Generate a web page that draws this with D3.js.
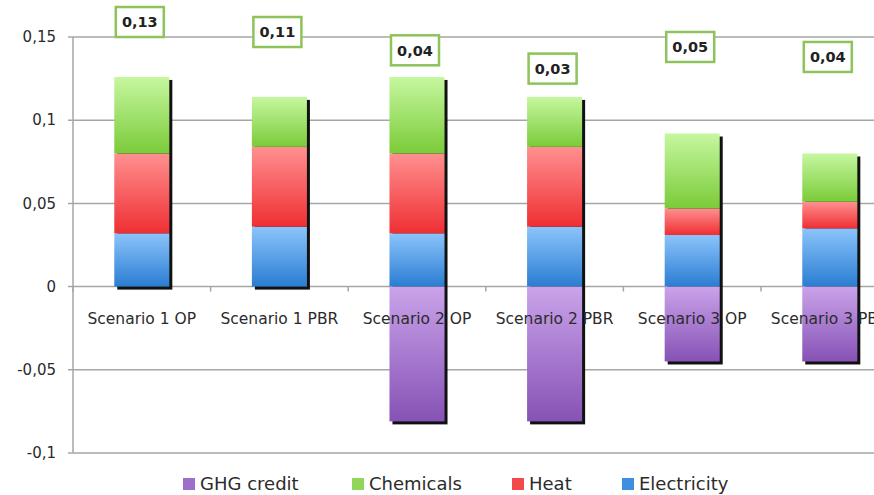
<!DOCTYPE html>
<html>
<head>
<meta charset="utf-8">
<script src="https://cdn.jsdelivr.net/npm/d3@7"></script>
<style>
  body { margin: 0; background: #fff; }
  svg { display: block; font-family: "DejaVu Sans", Verdana, sans-serif; }
</style>
</head>
<body>
<svg></svg>
<script>
let width = 874;
let height = 495;

// data
var scenarios = ["Scenario 1 OP", "Scenario 1 PBR", "Scenario 2 OP", "Scenario 2 PBR", "Scenario 3 OP", "Scenario 3 PBR"];
var electricity = [0.032, 0.036, 0.032, 0.036, 0.031, 0.035];
var heat = [0.048, 0.048, 0.048, 0.048, 0.016, 0.016];
var chemicals = [0.046, 0.030, 0.046, 0.030, 0.045, 0.029];
var ghgCredit = [0, 0, -0.081, -0.081, -0.045, -0.045];
var netLabels = ["0,13", "0,11", "0,04", "0,03", "0,05", "0,04"];
var yTicks = [0.15, 0.1, 0.05, 0, -0.05, -0.1];

// where each net value box sits, in axis units
var labelLevel = [0.159, 0.153, 0.142, 0.131, 0.144, 0.138];

var keys = ["electricity", "heat", "chemicals", "ghg"];
var legendKeys = ["ghg", "chemicals", "heat", "electricity"];
var names = { ghg: "GHG credit", chemicals: "Chemicals", heat: "Heat", electricity: "Electricity" };
var grad = {
  electricity: ["#8cc4fb", "#2a7dd2"],
  heat: ["#ff9090", "#ef2f33"],
  chemicals: ["#c6f7a0", "#7bcb39"],
  ghg: ["#caa3ea", "#8652b5"]
};
var swatch = { ghg: "#9d6fcb", chemicals: "#8fd65a", heat: "#f2494c", electricity: "#3f8fe0" };

var table = scenarios.map(function(s, i) {
  return { name: s, electricity: electricity[i], heat: heat[i], chemicals: chemicals[i], ghg: ghgCredit[i] };
});

var svg = d3.select("svg").attr("width", width).attr("height", height);

var x = d3.scaleBand()
  .domain(scenarios)
  .range([73, 73 + 6 * 137.6])
  .paddingInner(0.6)
  .paddingOuter(0.3);

var y = d3.scaleLinear()
  .domain([-0.1, 0.15])
  .range([453, 37]);

// gradients for each series
var defs = svg.append("defs");
keys.forEach(function(k) {
  var g = defs.append("linearGradient")
    .attr("id", "g-" + k)
    .attr("x1", 0).attr("y1", 0).attr("x2", 0).attr("y2", 1);
  g.append("stop").attr("offset", "0%").attr("stop-color", grad[k][0]);
  g.append("stop").attr("offset", "100%").attr("stop-color", grad[k][1]);
});

// gridlines
svg.append("g")
  .selectAll("line")
  .data(yTicks)
  .enter().append("line")
  .attr("x1", 68)
  .attr("x2", width)
  .attr("y1", function(d) { return y(d); })
  .attr("y2", function(d) { return y(d); })
  .attr("stroke", "#a6a6a6")
  .attr("stroke-width", 1.5);

// y axis line
svg.append("line")
  .attr("x1", 73).attr("x2", 73)
  .attr("y1", y(0.15)).attr("y2", y(-0.1))
  .attr("stroke", "#a6a6a6")
  .attr("stroke-width", 1.5);

// category ticks under the zero line
svg.append("g")
  .selectAll("line")
  .data(d3.range(scenarios.length + 1))
  .enter().append("line")
  .attr("x1", function(i) { return 73 + i * x.step(); })
  .attr("x2", function(i) { return 73 + i * x.step(); })
  .attr("y1", y(0))
  .attr("y2", y(0) + 5)
  .attr("stroke", "#a6a6a6")
  .attr("stroke-width", 1.5);

// y tick labels
svg.append("g")
  .selectAll("text")
  .data(yTicks)
  .enter().append("text")
  .attr("x", 56)
  .attr("y", function(d) { return y(d); })
  .attr("dy", "0.35em")
  .attr("text-anchor", "end")
  .attr("font-size", 15)
  .attr("fill", "#2b2b2b")
  .text(function(d) { return d === 0 ? "0" : String(d).replace(".", ","); });

var series = d3.stack()
  .keys(keys)
  .offset(d3.stackOffsetDiverging)(table);

// shadow behind each stacked bar
svg.append("g")
  .selectAll("rect")
  .data(table)
  .enter().append("rect")
  .attr("x", function(d) { return x(d.name) + 3; })
  .attr("y", function(d) { return y(d.electricity + d.heat + d.chemicals) + 3; })
  .attr("width", x.bandwidth())
  .attr("height", function(d) {
    return y(d.ghg) - y(d.electricity + d.heat + d.chemicals);
  })
  .attr("fill", "#111");

// bars
var layer = svg.append("g")
  .selectAll("g")
  .data(series)
  .enter().append("g")
  .attr("fill", function(d) { return "url(#g-" + d.key + ")"; });

layer.selectAll("rect")
  .data(function(d) { return d; })
  .enter().append("rect")
  .filter(function(d) { return d[1] - d[0] !== 0; })
  .attr("x", function(d) { return x(d.data.name); })
  .attr("y", function(d) { return y(d[1]); })
  .attr("width", x.bandwidth())
  .attr("height", function(d) { return y(d[0]) - y(d[1]); });

// category labels (the last one runs off the right edge, as in the source)
svg.append("g")
  .selectAll("text")
  .data(scenarios)
  .enter().append("text")
  .attr("x", function(d) { return x(d) + x.bandwidth() / 2; })
  .attr("y", 324)
  .attr("text-anchor", "middle")
  .attr("font-size", 15.5)
  .attr("fill", "#2b2b2b")
  .text(function(d) { return d; });

// net value boxes
var boxes = svg.append("g")
  .selectAll("g")
  .data(netLabels)
  .enter().append("g")
  .attr("transform", function(d, i) {
    return "translate(" + (x(scenarios[i]) + x.bandwidth() / 2 - 2) + "," + y(labelLevel[i]) + ")";
  });

boxes.append("rect")
  .attr("x", -24)
  .attr("y", -15)
  .attr("width", 48)
  .attr("height", 30)
  .attr("fill", "#fff")
  .attr("stroke", "#8dc35a")
  .attr("stroke-width", 2.5);

boxes.append("text")
  .attr("dy", "0.36em")
  .attr("text-anchor", "middle")
  .attr("font-size", 14.5)
  .attr("font-weight", "bold")
  .attr("fill", "#222")
  .text(function(d) { return d; });

// legend
var legendX = [183, 352, 512, 622];
var legend = svg.append("g")
  .selectAll("g")
  .data(legendKeys)
  .enter().append("g")
  .attr("transform", function(d, i) { return "translate(" + legendX[i] + ",484)"; });

legend.append("rect")
  .attr("x", 0)
  .attr("y", -6)
  .attr("width", 12)
  .attr("height", 12)
  .attr("fill", function(d) { return swatch[d]; });

legend.append("text")
  .attr("x", 17)
  .attr("dy", "0.35em")
  .attr("font-size", 18)
  .attr("fill", "#2b2b2b")
  .text(function(d) { return names[d]; });
</script>
</body>
</html>
